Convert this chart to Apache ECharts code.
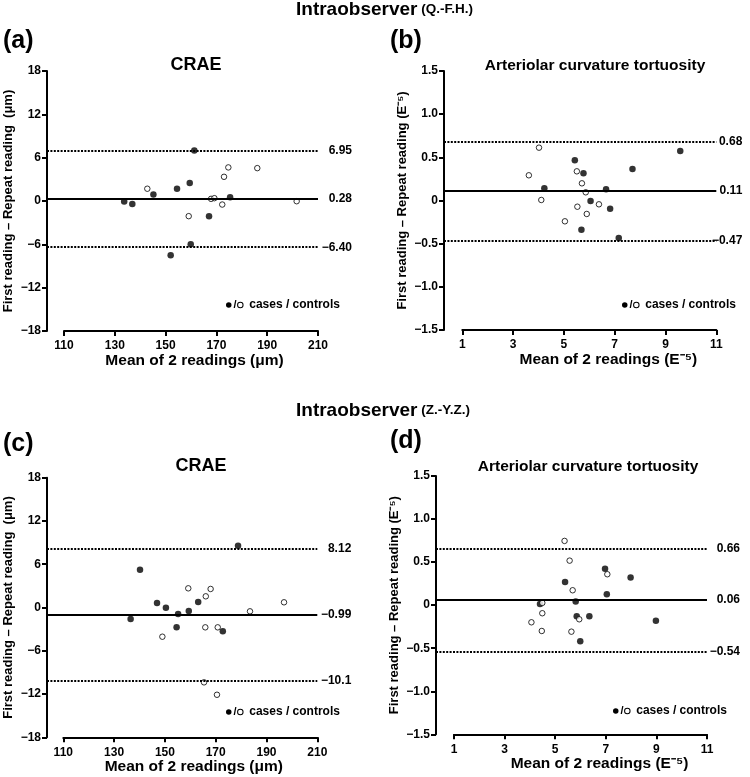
<!DOCTYPE html>
<html>
<head>
<meta charset="utf-8">
<script src="https://cdn.jsdelivr.net/npm/echarts@6/dist/echarts.min.js"></script>
<style>html,body{margin:0;padding:0;background:#fff}#c{width:750px;height:777px}</style>
</head>
<body>
<div id="c"></div>
<script>
// ---------- DATA ----------
const craeXTicks = [110, 130, 150, 170, 190, 210];
const actXTicks = [1, 3, 5, 7, 9, 11];

// (a) CRAE, observer Q.-F.H.  [mean, difference]
const aCases = [[161.3,7.0],[159.5,2.5],[154.5,1.7],[145.2,0.9],[133.7,-0.07],[136.9,-0.4],[175.4,0.53],[167.1,-2.1],[159.9,-6.0],[152.0,-7.5]];
const aControls = [[142.8,1.7],[174.7,4.65],[186.1,4.55],[173.0,3.35],[167.9,0.3],[169.2,0.39],[172.3,-0.49],[159.1,-2.1],[201.6,-0.03]];
const aLimits = [6.95, 0.28, -6.40];
const aLimitLabels = ['6.95', '0.28', '\u22126.40'];

// (b) Arteriolar curvature tortuosity, observer Q.-F.H.
const bCases = [[5.43,0.466],[5.77,0.315],[4.23,0.141],[6.66,0.13],[7.70,0.365],[9.58,0.574],[6.05,-0.006],[6.82,-0.095],[5.69,-0.338],[7.16,-0.435]];
const bControls = [[4.02,0.612],[3.62,0.292],[5.51,0.338],[5.71,0.199],[5.86,0.095],[4.11,0.006],[6.38,-0.044],[5.53,-0.072],[5.90,-0.156],[5.04,-0.241]];
const bLimits = [0.68, 0.11, -0.47];
const bLimitLabels = ['0.68', '0.11', '\u22120.47'];

// (c) CRAE, observer Z.-Y.Z.
const cCases = [[178.8,8.57],[140.2,5.24],[146.9,0.62],[150.4,-0.03],[155.2,-0.9],[159.4,-0.49],[163.1,0.76],[136.5,-1.6],[154.6,-2.75],[172.8,-3.3]];
const cControls = [[159.2,2.66],[168.0,2.57],[166.1,1.55],[183.5,-0.53],[196.9,0.72],[165.9,-2.75],[170.8,-2.75],[149.0,-4.05],[165.4,-10.38],[170.5,-12.1]];
const cLimits = [8.12, -0.99, -10.1];
const cLimitLabels = ['8.12', '\u22120.99', '\u221210.1'];

// (d) Arteriolar curvature tortuosity, observer Z.-Y.Z.
const dCases = [[6.97,0.424],[7.98,0.32],[5.39,0.27],[7.04,0.127],[5.81,0.041],[4.40,0.014],[5.85,-0.13],[6.35,-0.13],[8.98,-0.18],[5.99,-0.42]];
const dControls = [[5.37,0.746],[5.57,0.517],[7.06,0.359],[5.69,0.173],[4.49,0.026],[4.49,-0.094],[5.95,-0.164],[4.06,-0.199],[4.47,-0.30],[5.64,-0.308]];
const dLimits = [0.66, 0.06, -0.54];
const dLimitLabels = ['0.66', '0.06', '\u22120.54'];

// ---------- CHART ----------
const FONT = '"Liberation Sans", Arial, Helvetica, sans-serif';
const chart = echarts.init(document.getElementById('c'), null, {renderer: 'canvas'});

const grids = [], xAxes = [], yAxes = [], series = [];

function fmtY(dec) {
  return function (v) {
    if (Math.abs(v) < 1e-9) return '0';
    return (v < 0 ? '\u2212' : '') + Math.abs(v).toFixed(dec);
  };
}

function addPanel(P, cases, controls, limits, limitLabels) {
  const gA = grids.length, gB = gA + 1;
  grids.push({left: P.axisX, top: P.top, width: P.plotRight - P.axisX, height: P.bottom - P.top});
  grids.push({left: P.plotLeft, top: P.top, width: P.plotRight - P.plotLeft, height: P.bottom - P.top});
  const txt = {color: '#000', fontWeight: 'bold', fontFamily: FONT};
  xAxes.push({gridIndex: gA, type: 'value', min: 0, max: 1, show: false});
  xAxes.push({
    gridIndex: gB, type: 'value', min: P.xmin, max: P.xmax,
    axisLine: {show: true, onZero: false, lineStyle: {color: '#000', width: 2}},
    axisTick: {show: true, customValues: P.xticks, length: 5, lineStyle: {color: '#000', width: 2}},
    axisLabel: Object.assign({customValues: P.xticks, margin: 9, fontSize: 12}, txt),
    splitLine: {show: false},
    name: P.xName, nameLocation: 'middle', nameGap: 20,
    nameTextStyle: Object.assign({fontSize: 15.5, padding: [0, 0, 0, P.xNameShift]}, txt)
  });
  yAxes.push({
    gridIndex: gA, type: 'value', min: P.ymin, max: P.ymax, interval: P.yint,
    axisLine: {show: true, onZero: false, lineStyle: {color: '#000', width: 2}},
    axisTick: {show: true, length: 5, lineStyle: {color: '#000', width: 2}},
    axisLabel: Object.assign({formatter: fmtY(P.dec), margin: 6, fontSize: 12}, txt),
    splitLine: {show: false},
    name: P.yName, nameLocation: 'middle', nameGap: P.yNameGap,
    nameTextStyle: Object.assign({fontSize: 13}, txt)
  });
  yAxes.push({gridIndex: gB, type: 'value', min: P.ymin, max: P.ymax, show: false});

  series.push({
    type: 'scatter', xAxisIndex: gA, yAxisIndex: gA, data: [], silent: true,
    markLine: {
      silent: true, symbol: 'none', animation: false,
      data: limits.map(function (v, k) {
        const mean = (k === 1);
        return {
          yAxis: v,
          lineStyle: mean ? {color: '#000', width: 2.2, type: 'solid'} : {color: '#000', width: 2, type: [2, 1.4]},
          label: {
            show: true, position: 'end', distance: 2,
            formatter: '{v|' + limitLabels[k] + '}',
            rich: {v: {width: P.labW, align: 'right', fontSize: 12, fontWeight: 'bold', fontFamily: FONT, color: '#000'}}
          }
        };
      })
    }
  });
  series.push({
    type: 'scatter', xAxisIndex: gB, yAxisIndex: gB, data: cases, symbol: 'circle', symbolSize: 6.5,
    itemStyle: {color: '#000'}, silent: true, z: 3
  });
  series.push({
    type: 'scatter', xAxisIndex: gB, yAxisIndex: gB, data: controls, symbol: 'circle', symbolSize: 5.5,
    itemStyle: {color: '#fff', borderColor: '#000', borderWidth: 1}, silent: true, z: 3
  });
}

const craeY = 'First reading \u2013 Repeat reading  (\u03bcm)';
const actY = 'First reading \u2013 Repeat reading (E\u207b\u2075)';
const craeX = 'Mean of 2 readings (\u03bcm)';
const actX = 'Mean of 2 readings (E\u207b\u2075)';

addPanel({axisX: 47, plotLeft: 64, plotRight: 318, top: 71, bottom: 331, xmin: 110, xmax: 210, xticks: craeXTicks,
  ymin: -18, ymax: 18, yint: 6, dec: 0, yName: craeY, xName: craeX, yNameGap: 32, xNameShift: 7, labW: 32},
  aCases, aControls, aLimits, aLimitLabels);
addPanel({axisX: 444, plotLeft: 462.3, plotRight: 716.3, top: 71, bottom: 330, xmin: 1, xmax: 11, xticks: actXTicks,
  ymin: -1.5, ymax: 1.5, yint: 0.5, dec: 1, yName: actY, xName: actX, yNameGap: 35, xNameShift: 38, labW: 24},
  bCases, bControls, bLimits, bLimitLabels);
addPanel({axisX: 47, plotLeft: 63.3, plotRight: 317.3, top: 477.7, bottom: 737.3, xmin: 110, xmax: 210, xticks: craeXTicks,
  ymin: -18, ymax: 18, yint: 6, dec: 0, yName: craeY, xName: craeX, yNameGap: 32, xNameShift: 7, labW: 32},
  cCases, cControls, cLimits, cLimitLabels);
addPanel({axisX: 436, plotLeft: 454, plotRight: 707, top: 476, bottom: 734.3, xmin: 1, xmax: 11, xticks: actXTicks,
  ymin: -1.5, ymax: 1.5, yint: 0.5, dec: 1, yName: actY, xName: actX, yNameGap: 35, xNameShift: 38, labW: 31},
  dCases, dControls, dLimits, dLimitLabels);

function legendTitle(left, top) {
  return {
    left: left, top: top, padding: 0,
    text: '{f|}{sl|/}{o|}{t|  cases / controls}',
    textStyle: {
      rich: {
        f: {width: 5.5, height: 5.5, backgroundColor: '#000', borderRadius: 3},
        sl: {fontSize: 11, fontWeight: 'bold', fontFamily: FONT, color: '#000', padding: [0, 1.5, 0, 2]},
        o: {width: 4.5, height: 4.5, borderColor: '#000', borderWidth: 1, borderRadius: 3, backgroundColor: '#fff'},
        t: {fontSize: 12, fontWeight: 'bold', fontFamily: FONT, color: '#000'}
      }
    }
  };
}

function head(text, top) {
  return {
    left: 296, top: top, padding: 0,
    text: '{b|Intraobserver}{s| ' + text + '}',
    textStyle: {rich: {
      b: {fontSize: 19, fontWeight: 'bold', fontFamily: FONT, color: '#000'},
      s: {fontSize: 13.5, fontWeight: 'bold', fontFamily: FONT, color: '#000'}
    }}
  };
}
function tag(text, left, top) {
  return {left: left, top: top, padding: 0, text: text,
    textStyle: {fontSize: 25, fontWeight: 'bold', fontFamily: FONT, color: '#000'}};
}
function ptitle(text, cx, top, size) {
  return {left: cx, top: top, padding: 0, textAlign: 'center', text: text,
    textStyle: {fontSize: size, fontWeight: 'bold', fontFamily: FONT, color: '#000'}};
}

chart.setOption({
  animation: false,
  backgroundColor: '#fff',
  title: [
    head('(Q.-F.H.)', 0),
    head('(Z.-Y.Z.)', 401),
    tag('(a)', 3, 29), tag('(b)', 390, 29), tag('(c)', 3, 432), tag('(d)', 390, 429),
    ptitle('CRAE', 196, 56, 18),
    ptitle('Arteriolar curvature tortuosity', 595, 58, 15.5),
    ptitle('CRAE', 201, 457, 18),
    ptitle('Arteriolar curvature tortuosity', 588, 459, 15.5),
    legendTitle(226, 299), legendTitle(622, 299), legendTitle(226, 706), legendTitle(613, 705)
  ],
  grid: grids, xAxis: xAxes, yAxis: yAxes, series: series
});
</script>
</body>
</html>
